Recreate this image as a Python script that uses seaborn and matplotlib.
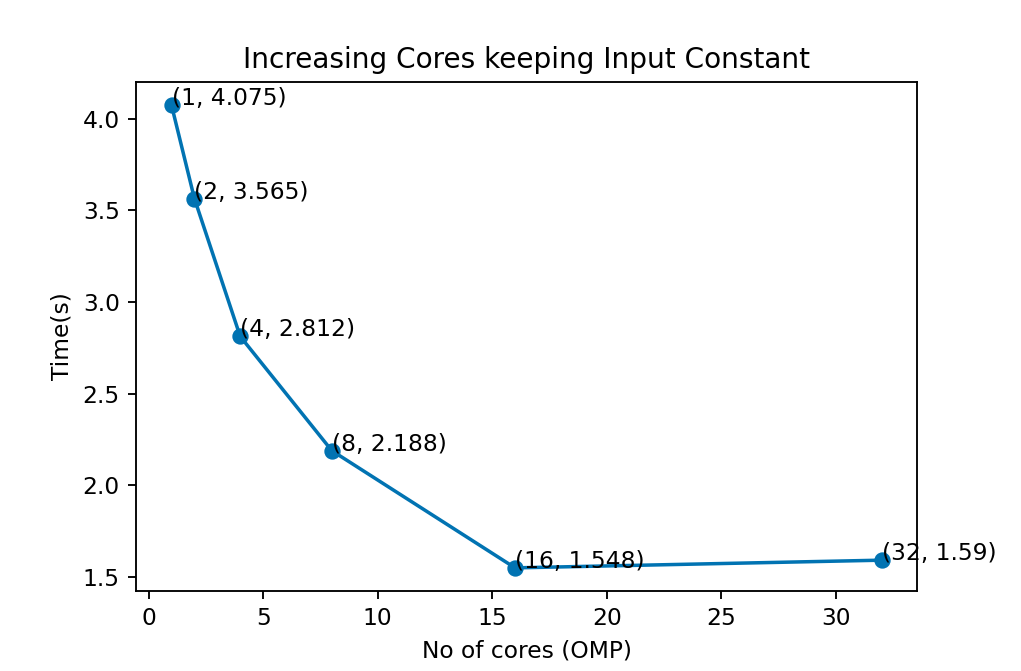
import matplotlib
matplotlib.use("Agg")
import matplotlib.pyplot as plt
import seaborn as sns
import pandas as pd

cores = [1, 2, 4, 8, 16, 32]
times = [4.075, 3.565, 2.812, 2.188, 1.548, 1.59]

df = pd.DataFrame({"cores": cores, "time": times})
color = sns.color_palette("colorblind")[0]

W, H = 1021, 671
dpi = 168
fig = plt.figure(figsize=(W / dpi, H / dpi), dpi=dpi)
ax = fig.add_axes([136 / W, 1 - 591 / H, (917 - 136) / W, (591 - 82) / H])

sns.lineplot(data=df, x="cores", y="time", ax=ax, color=color, marker="o",
             markersize=6, markeredgecolor=color, markeredgewidth=1, linewidth=1.5)

for c, t in zip(cores, times):
    ax.text(c, t, str((c, t)), fontsize=10)

ax.set_title("Increasing Cores keeping Input Constant", fontsize=12)
ax.set_xlabel("No of cores (OMP)")
ax.set_ylabel("Time(s)")

fig.savefig("out.png", dpi=dpi)
